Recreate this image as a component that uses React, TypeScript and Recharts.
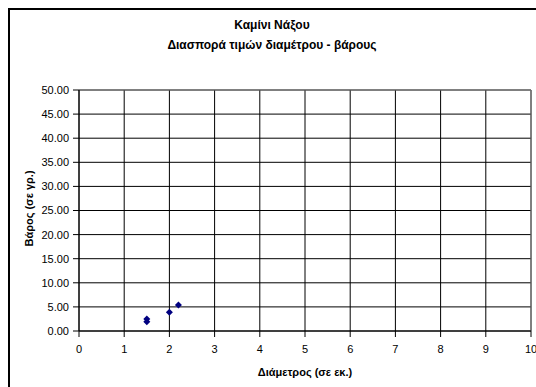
import { CartesianGrid, Label, ReferenceLine, Scatter, ScatterChart, XAxis, YAxis } from "recharts";

// diameter (cm) / weight (g) readings
const diameters = [1.5, 1.5, 2.0, 2.2];
const weights = [2.5, 1.9, 3.9, 5.4];

const xTicks = [0, 1, 2, 3, 4, 5, 6, 7, 8, 9, 10];
const yTicks = [0, 5, 10, 15, 20, 25, 30, 35, 40, 45, 50];

const data = diameters.map((d, i) => ({ x: d, y: weights[i] }));

const FONT = "'Liberation Sans', Arial, sans-serif";

const Diamond = (props: any) => {
  const { cx, cy } = props;
  const r = 3.5;
  return (
    <path
      d={`M${cx},${cy - r} L${cx + r},${cy} L${cx},${cy + r} L${cx - r},${cy} Z`}
      fill="#000080"
    />
  );
};

export default function App() {
  return (
    <div style={{ position: "fixed", left: 0, top: 0, width: 536, height: 387, overflow: "hidden", background: "#fff" }}>
      <div
        style={{
          position: "absolute",
          left: 8,
          top: 8,
          width: 600,
          height: 600,
          borderTop: "2px solid #000",
          borderLeft: "2px solid #000",
          pointerEvents: "none",
        }}
      />
      <div
        style={{
          position: "absolute",
          left: 8,
          width: 528,
          top: 15,
          textAlign: "center",
          fontFamily: FONT,
          fontWeight: "bold",
          fontSize: 12,
          lineHeight: "20px",
        }}
      >
        <div>Καμίνι Νάξου</div>
        <div>Διασπορά τιμών διαμέτρου - βάρους</div>
      </div>
      <div style={{ position: "absolute", left: 0, top: 0 }}>
        <ScatterChart width={536} height={387} margin={{ top: 90, right: 5, left: 19, bottom: 16 }}>
          <CartesianGrid stroke="#000" strokeWidth={1} />
          <XAxis
            type="number"
            dataKey="x"
            domain={[0, 10]}
            ticks={xTicks}
            interval={0}
            height={40}
            tickSize={6}
            tickMargin={8}
            axisLine={{ stroke: "#000" }}
            tickLine={{ stroke: "#000" }}
            tick={{ fontFamily: FONT, fontSize: 11, fill: "#000" }}
          >
            <Label
              content={(p: any) => {
                const vb = p.viewBox;
                return (
                  <text
                    x={vb.x + vb.width / 2}
                    y={vb.y + 45}
                    textAnchor="middle"
                    fontFamily={FONT}
                    fontSize={11}
                    fontWeight="bold"
                    fill="#000"
                  >
                    Διάμετρος (σε εκ.)
                  </text>
                );
              }}
            />
          </XAxis>
          <YAxis
            type="number"
            dataKey="y"
            domain={[0, 50]}
            ticks={yTicks}
            interval={0}
            width={60}
            tickSize={6}
            tickMargin={4}
            tickFormatter={(v: number) => v.toFixed(2)}
            axisLine={{ stroke: "#000" }}
            tickLine={{ stroke: "#000" }}
            tick={{ fontFamily: FONT, fontSize: 11, fill: "#000" }}
          >
            <Label
              content={(p: any) => {
                const vb = p.viewBox;
                const x = vb.x + 14;
                const y = vb.y + vb.height / 2 - 2;
                return (
                  <text
                    x={x}
                    y={y}
                    transform={`rotate(-90, ${x}, ${y})`}
                    textAnchor="middle"
                    fontFamily={FONT}
                    fontSize={11}
                    fontWeight="bold"
                    fill="#000"
                  >
                    Βάρος (σε γρ.)
                  </text>
                );
              }}
            />
          </YAxis>
          <ReferenceLine y={50} stroke="#808080" />
          <ReferenceLine x={10} stroke="#808080" />
          <Scatter data={data} shape={Diamond} isAnimationActive={false} />
        </ScatterChart>
      </div>
    </div>
  );
}
